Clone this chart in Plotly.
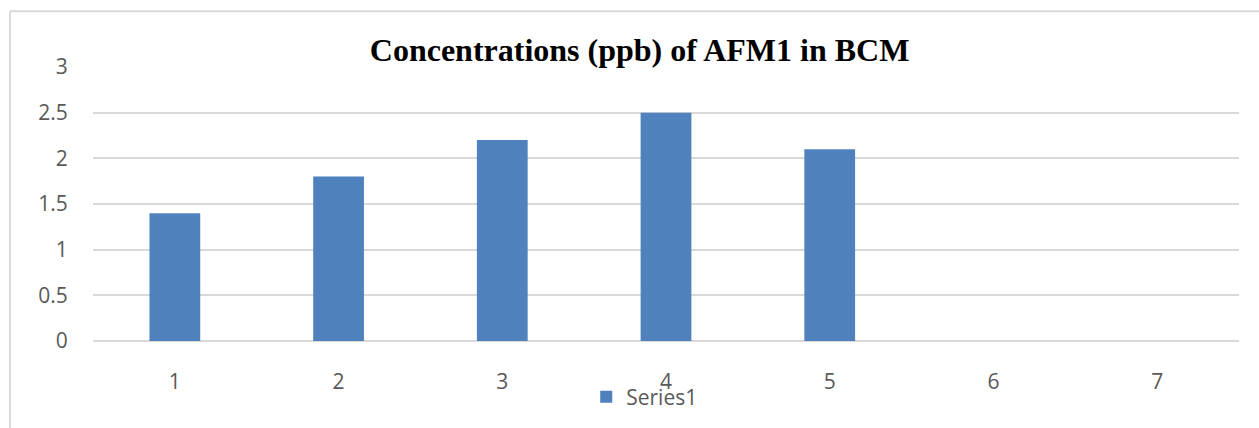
import plotly.graph_objects as go

# Sample index and AFM1 concentration (ppb); samples 6 and 7 have no reading
samples = [1, 2, 3, 4, 5, 6, 7]
afm1_ppb = [1.4, 1.8, 2.2, 2.5, 2.1, None, None]
y_ticks = [0, 0.5, 1, 1.5, 2, 2.5, 3]
y_tick_text = ["0", "0.5", "1", "1.5", "2", "2.5", "3"]

BAR_BLUE = "#4f81bd"
GRID = "#d9d9d9"
LABEL = "#595959"

fig = go.Figure()
fig.add_trace(go.Bar(
    x=samples,
    y=afm1_ppb,
    name="Series1",
    marker=dict(color=BAR_BLUE, line=dict(width=0)),
    width=0.31,
    showlegend=True,
))

fig.update_layout(
    width=1259,
    height=428,
    margin=dict(l=93, r=20, t=67, b=86),
    paper_bgcolor="white",
    plot_bgcolor="white",
    title=dict(
        text="<b>Concentrations (ppb) of AFM1 in BCM</b>",
        font=dict(family="Liberation Serif", size=32, color="black"),
        x=0.508, xanchor="center",
        y=1 - 50 / 428, yanchor="middle", yref="container",
    ),
    font=dict(family="Open Sans", size=21, color=LABEL),
    legend=dict(
        orientation="h",
        x=0.481, xanchor="center",
        y=-0.2, yanchor="middle",
        font=dict(family="Open Sans", size=21, color=LABEL),
        itemsizing="constant",
        itemwidth=30,
        bgcolor="rgba(0,0,0,0)",
    ),
    xaxis=dict(
        range=[0.5, 7.5],
        tickmode="array",
        tickvals=samples,
        ticktext=[str(s) for s in samples],
        showgrid=False,
        zeroline=False,
        showline=False,
        ticks="outside",
        ticklen=22,
        tickcolor="rgba(0,0,0,0)",
        fixedrange=True,
    ),
    yaxis=dict(
        range=[0, 3],
        tickmode="array",
        tickvals=y_ticks,
        ticktext=y_tick_text,
        showgrid=True,
        gridcolor=GRID,
        gridwidth=1.5,
        zeroline=True,
        zerolinecolor=GRID,
        zerolinewidth=1.5,
        showline=False,
        ticks="outside",
        ticklen=20,
        tickcolor="rgba(0,0,0,0)",
        fixedrange=True,
    ),
    shapes=[
        # chart frame (left and top edges visible)
        dict(type="line", xref="paper", yref="paper",
             x0=(10 - 93) / 1146, x1=(10 - 93) / 1146,
             y0=(342 - 440) / 275, y1=(342 - 11) / 275,
             line=dict(color=GRID, width=2)),
        dict(type="line", xref="paper", yref="paper",
             x0=(10 - 93) / 1146, x1=(1270 - 93) / 1146,
             y0=(342 - 11) / 275, y1=(342 - 11) / 275,
             line=dict(color=GRID, width=2)),
    ],
)

fig.write_html("out.html")
